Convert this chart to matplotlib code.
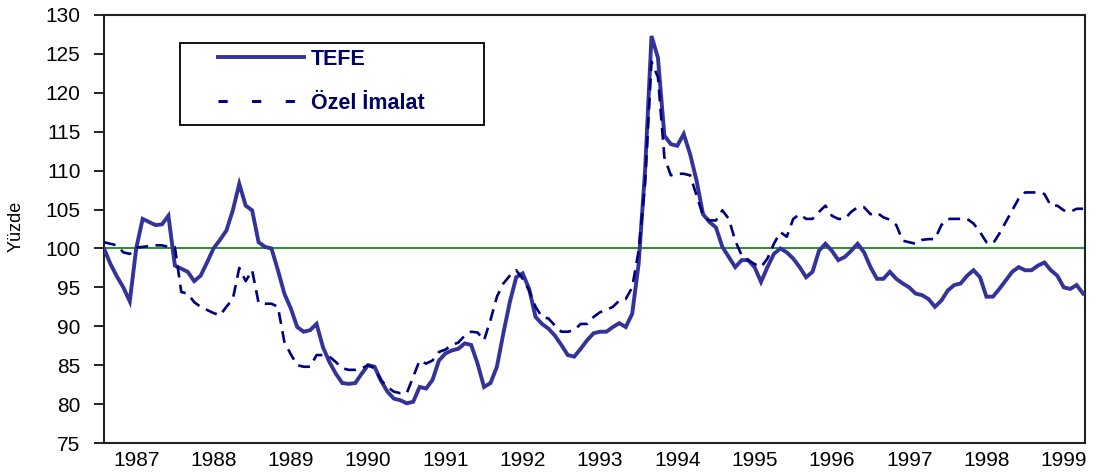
import numpy as np
import matplotlib
matplotlib.use("Agg")
import matplotlib.pyplot as plt
from matplotlib.lines import Line2D
from matplotlib.patches import Rectangle

plt.rcParams['font.family'] = ['Liberation Sans', 'DejaVu Sans']

# aylik veri, Agustos 1986 - Nisan 1999
start_year = 1986 + 7 / 12.0

tefe = [100.0, 98.0, 96.4, 95.0, 93.2, 100.0, 103.8, 103.4, 103.0, 103.1,
        104.2, 97.8, 97.4, 97.0, 95.8, 96.5, 98.2, 100.0, 101.1, 102.3,
        104.9, 108.3, 105.5, 104.9, 100.8, 100.2, 100.0, 97.2, 94.2, 92.3,
        89.9, 89.3, 89.5, 90.3, 87.3, 85.4, 83.9, 82.7, 82.6, 82.7,
        83.9, 85.0, 84.8, 83.0, 81.6, 80.7, 80.5, 80.1, 80.3, 82.2,
        82.0, 83.1, 85.6, 86.5, 86.9, 87.1, 87.8, 87.6, 85.2, 82.2,
        82.7, 84.8, 89.1, 93.1, 96.3, 96.8, 94.8, 91.2, 90.3, 89.7,
        88.8, 87.6, 86.3, 86.1, 87.1, 88.2, 89.1, 89.3, 89.3, 89.9,
        90.4, 89.9, 91.6, 98.0, 110.0, 127.3, 124.5, 114.5, 113.4, 113.2,
        114.7, 112.1, 108.7, 104.4, 103.4, 102.7, 100.2, 98.9, 97.6, 98.5,
        98.5, 97.6, 95.7, 97.6, 99.3, 100.0, 99.5, 98.7, 97.6, 96.3,
        97.0, 99.7, 100.6, 99.7, 98.5, 98.9, 99.7, 100.6, 99.5, 97.6,
        96.1, 96.1, 97.0, 96.1, 95.5, 95.0, 94.2, 94.0, 93.5, 92.5,
        93.3, 94.6, 95.3, 95.5, 96.5, 97.2, 96.3, 93.8, 93.8, 94.8,
        95.9, 97.0, 97.6, 97.2, 97.2, 97.8, 98.2, 97.2, 96.5, 95.0,
        94.8, 95.3, 94.2]

ozel = [100.8, 100.6, 100.4, 99.5, 99.3, 100.1, 100.2, 100.3, 100.4, 100.4,
        100.2, 100.2, 94.4, 94.2, 93.1, 92.5, 92.1, 91.7, 91.4, 92.5,
        93.5, 97.5, 95.8, 97.2, 93.0, 92.9, 92.9, 92.5, 88.0, 86.4,
        85.0, 84.8, 84.8, 86.3, 86.3, 86.1, 85.4, 84.6, 84.4, 84.4,
        84.6, 85.0, 84.6, 83.1, 82.2, 81.6, 81.4, 81.4, 83.5, 85.6,
        85.2, 85.6, 86.7, 87.0, 87.6, 87.9, 88.8, 89.3, 89.2, 88.2,
        90.8, 93.8, 95.5, 96.5, 97.2, 96.1, 94.6, 92.5, 91.2, 91.0,
        90.1, 89.3, 89.3, 89.5, 90.3, 90.3, 91.2, 91.8, 92.1, 92.5,
        93.3, 93.5, 95.0, 99.7, 108.3, 124.0, 122.0, 111.7, 109.4, 109.6,
        109.6, 109.4, 106.8, 104.2, 103.6, 103.6, 104.9, 103.8, 101.0, 99.1,
        98.5, 98.0, 97.6, 98.7, 100.6, 102.1, 101.5, 103.8, 104.4, 103.8,
        103.8, 104.7, 105.5, 104.2, 103.8, 103.8, 104.7, 105.3, 105.3, 104.4,
        104.6, 104.0, 103.7, 103.0, 101.0, 100.8, 100.6, 101.1, 101.2, 101.2,
        103.0, 103.8, 103.8, 103.8, 103.8, 103.2, 102.1, 100.8, 100.6, 101.9,
        103.4, 104.9, 106.4, 107.2, 107.2, 107.2, 107.0, 105.5, 105.5, 104.9,
        104.7, 105.1, 105.1]

years = list(range(1987, 2000))
labels = ['TEFE', 'Özel İmalat']

x = start_year + np.arange(len(tefe)) / 12.0

fig = plt.figure(figsize=(10.99, 4.73), dpi=100)
ax = fig.add_axes([104 / 1099, 30 / 473, 981 / 1099, 428 / 473])

solid_col = '#333399'
dash_col = '#000080'

ax.axhline(100, color='#008000', lw=1.2, zorder=1)
ax.plot(x, tefe, color=solid_col, lw=2.8, solid_joinstyle='miter', zorder=3)
ax.plot(x, ozel, color=dash_col, lw=1.9, linestyle=(0, (4.5, 2.8)), zorder=4)

ax.set_xlim(start_year, start_year + 152.3 / 12.0)
ax.set_ylim(75, 130)
ax.set_yticks(np.arange(75, 131, 5))
ax.set_xticks(years)
ax.set_xticklabels([str(y) for y in years])

ax.tick_params(axis='y', direction='out', length=7, width=1.2, pad=10,
               labelsize=15, colors='black')
ax.tick_params(axis='x', length=0, pad=6, labelsize=15)
for s in ax.spines.values():
    s.set_linewidth(1.5)
    s.set_color('#222222')

ax.set_ylabel('Yüzde', fontsize=13)
ax.yaxis.set_label_coords(-0.081, 0.505)

# lejant kutusu
ax.add_patch(Rectangle(((180 - 104) / 981, (443 - 125) / 428), 304 / 981, 82 / 428,
                       transform=ax.transAxes, fill=False, edgecolor='black',
                       lw=1.3, zorder=5))
handles = [Line2D([], [], color=solid_col, lw=2.8),
           Line2D([], [], color=dash_col, lw=2.2, linestyle=(0, (3.0, 8.0)))]
leg = ax.legend(handles, labels, loc='upper left',
                bbox_to_anchor=((218 - 104) / 981, (443 - 49) / 428),
                frameon=False, borderpad=0, borderaxespad=0,
                handlelength=4.0, handletextpad=0.3, labelspacing=1.05,
                prop={'size': 15.5, 'weight': 'bold'})
for t in leg.get_texts():
    t.set_color('#000066')

fig.savefig('out.png', dpi=100, facecolor='white')
